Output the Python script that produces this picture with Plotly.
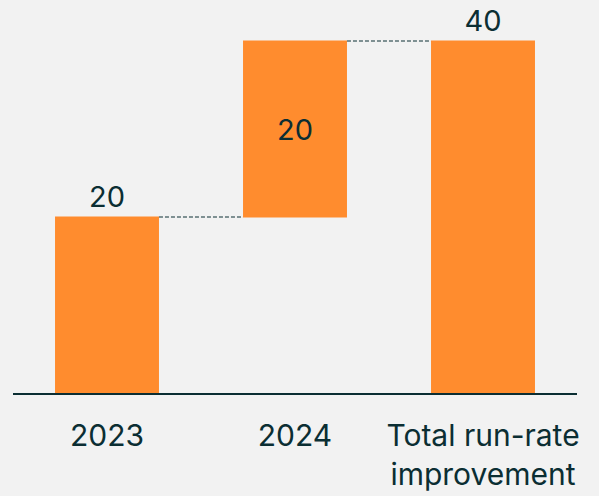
import plotly.graph_objects as go

# Run-rate improvement bridge
categories = ["2023", "2024", "Total run-rate<br>improvement"]
values = [20, 20, 40]
measures = ["relative", "relative", "total"]
labels = ["20", "20", "40"]
label_positions = ["outside", "inside", "outside"]

BAR = "#FF8C2E"
INK = "#0B2E33"
BG = "#F2F2F2"

fig = go.Figure(
    go.Waterfall(
        x=categories,
        y=values,
        measure=measures,
        text=labels,
        textposition=label_positions,
        insidetextanchor="middle",
        textfont=dict(size=29, color=INK),
        outsidetextfont=dict(size=29, color=INK),
        insidetextfont=dict(size=29, color=INK),
        increasing=dict(marker=dict(color=BAR)),
        decreasing=dict(marker=dict(color=BAR)),
        totals=dict(marker=dict(color=BAR)),
        connector=dict(line=dict(color=INK, width=1, dash="4px,2px")),
        width=0.553,
        cliponaxis=False,
        hoverinfo="skip",
    )
)

fig.update_layout(
    width=599,
    height=496,
    margin=dict(l=13, r=22, t=0, b=103),
    paper_bgcolor=BG,
    plot_bgcolor=BG,
    showlegend=False,
    font=dict(family="Inter, Noto Sans, sans-serif", color=INK, size=30),
    xaxis=dict(
        showline=True,
        linecolor=INK,
        linewidth=2,
        showgrid=False,
        ticks="outside",
        ticklen=15,
        tickcolor="rgba(0,0,0,0)",
        tickfont=dict(size=30, color=INK),
        range=[-0.5, 2.5],
    ),
    yaxis=dict(
        visible=False,
        range=[0, 44.66],
    ),
)

fig.write_html("out.html")
